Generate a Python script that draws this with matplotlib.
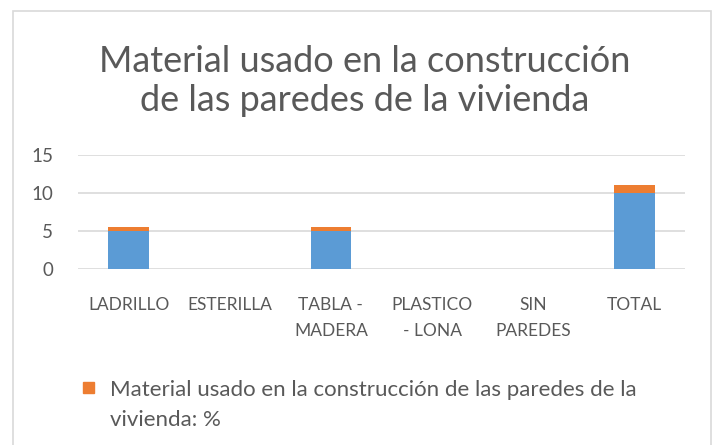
import matplotlib.pyplot as plt
from matplotlib.patches import Rectangle

CATEGORIES = ['LADRILLO', 'ESTERILLA', 'TABLA -\nMADERA', 'PLASTICO\n- LONA', 'SIN\nPAREDES', 'TOTAL']
CASOS = [5, 0, 5, 0, 0, 10]
PORCENTAJE = [0.5, 0, 0.5, 0, 0, 1]
Y_TICKS = [0, 5, 10, 15]

TITLE = 'Material usado en la construcción\nde las paredes de la vivienda'
LEGEND_LINES = ['Material usado en la construcción de las paredes de la', 'vivienda: %']

BLUE = '#5B9BD5'
ORANGE = '#ED7D31'
TEXT = '#595959'
GRID = '#D9D9D9'

W, H = 712, 445

plt.rcParams['font.family'] = ['Lato', 'DejaVu Sans']

fig = plt.figure(figsize=(W / 100, H / 100), dpi=100)
# chart frame (cut off at the bottom of the screenshot)
fig.patches.append(Rectangle((12.5 / W, -0.05), (710.5 - 12.5) / W, 1.05 - 10.5 / H,
                             transform=fig.transFigure, fill=False,
                             edgecolor='#D9D9D9', linewidth=1.2))

ax = fig.add_axes([78 / W, 1 - 269 / H, (685 - 78) / W, (269 - 155) / H])
x = range(len(CATEGORIES))
ax.bar(x, CASOS, width=0.4, color=BLUE, zorder=3)
ax.bar(x, PORCENTAJE, width=0.4, bottom=CASOS, color=ORANGE, zorder=3)

ax.set_xlim(-0.5, len(CATEGORIES) - 0.5)
ax.set_ylim(0, 15)
ax.set_yticks(Y_TICKS)
ax.set_xticks(list(x))
ax.set_xticklabels(CATEGORIES, linespacing=1.75)
ax.tick_params(axis='x', length=0, labelsize=12.5, labelcolor=TEXT, pad=20)
ax.tick_params(axis='y', length=0, labelsize=13.5, labelcolor=TEXT, pad=18)
ax.grid(axis='y', color=GRID, linewidth=1.2, zorder=0)
for s in ax.spines.values():
    s.set_visible(False)

fig.text(365 / W, 1 - 81 / H, TITLE, ha='center', va='center', fontsize=26,
         color=TEXT, linespacing=1.2)

fig.patches.append(Rectangle((83 / W, 1 - 393 / H), 11 / W, 11 / H,
                             transform=fig.transFigure, color=ORANGE))
for i, line in enumerate(LEGEND_LINES):
    fig.text(110 / W, 1 - (396 + 30 * i) / H, line, ha='left', va='baseline',
             fontsize=16, color=TEXT)

fig.savefig('out.png', dpi=100)
